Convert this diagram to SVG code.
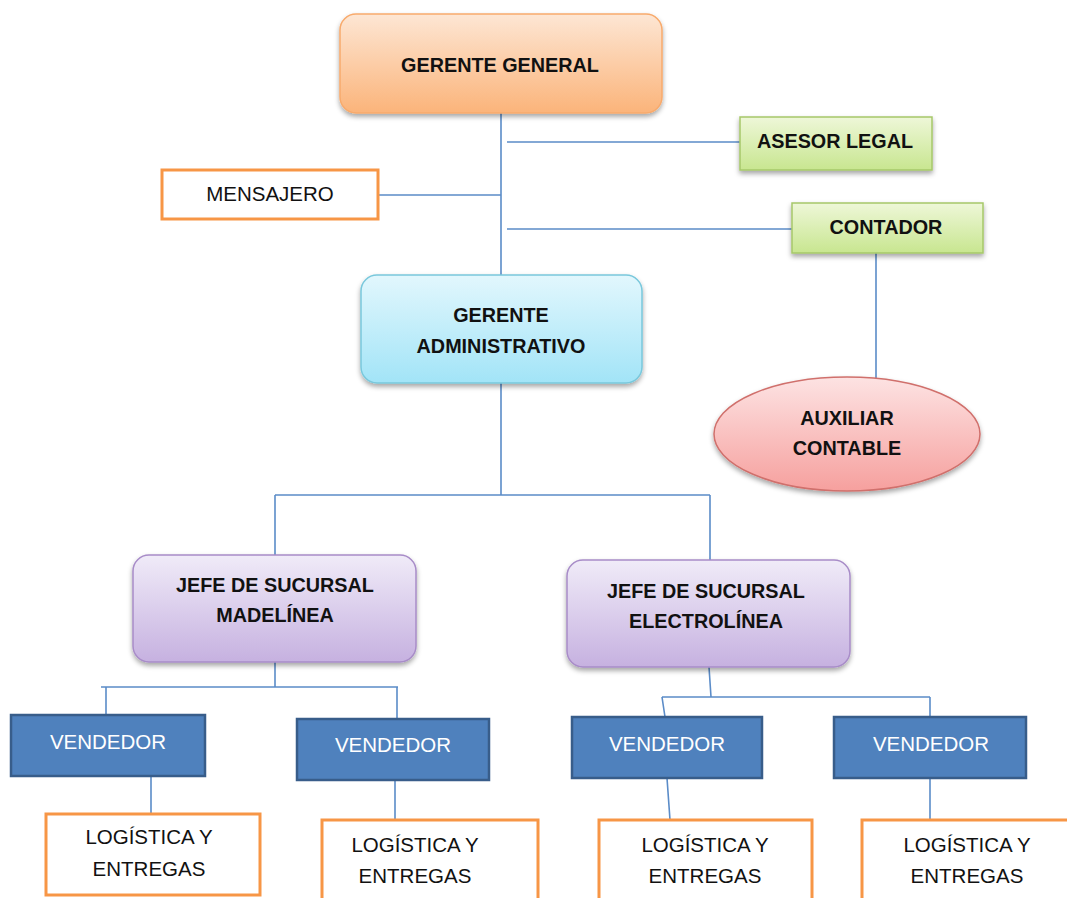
<svg xmlns="http://www.w3.org/2000/svg" width="1067" height="898" viewBox="0 0 1067 898">
<defs>
<linearGradient id="gOr" x1="0" y1="0" x2="0" y2="1"><stop offset="0" stop-color="#fde6d4"/><stop offset="1" stop-color="#fbb47a"/></linearGradient>
<linearGradient id="gGr" x1="0" y1="0" x2="0" y2="1"><stop offset="0" stop-color="#eef7d8"/><stop offset="1" stop-color="#c8e690"/></linearGradient>
<linearGradient id="gBl" x1="0" y1="0" x2="0" y2="1"><stop offset="0" stop-color="#e2f7fd"/><stop offset="1" stop-color="#a2e4f7"/></linearGradient>
<linearGradient id="gRd" x1="0" y1="0" x2="0" y2="1"><stop offset="0" stop-color="#fde3e3"/><stop offset="1" stop-color="#f6a09e"/></linearGradient>
<linearGradient id="gPu" x1="0" y1="0" x2="0" y2="1"><stop offset="0" stop-color="#f0ebf8"/><stop offset="1" stop-color="#c6b1e0"/></linearGradient>
<filter id="sh" x="-10%" y="-10%" width="120%" height="130%"><feDropShadow dx="0" dy="3" stdDeviation="2.5" flood-color="#000" flood-opacity="0.35"/></filter>
</defs>
<style>
.t{font-family:"Liberation Sans",Arial,sans-serif;font-size:20.5px;text-anchor:middle;fill:#111}
.b{font-weight:bold;font-size:19.8px}
.w{fill:#fff}
.ln{stroke:#5b8cc8;stroke-width:1.6;fill:none}
.ob{fill:#fff;stroke:#f79646;stroke-width:3}
.vd{fill:#4f81bd;stroke:#385d8a;stroke-width:2.5}
</style>
<rect width="1067" height="898" fill="#fff"/>
<g id="connectors">
<path class="ln" d="M501 113V275M507 142H740M378 195H501M507 229H792M876 253V378M501 383V495M275 495H710M275 495V555M710 495V560M275 662V687M101 687H398M106 687V715M397 687V719M709 667L711 697M662 697H930M662 697L665 717M930 697V717M151 776V814M395 780V820M667 778L670 820M930 778V822"/>
</g>
<g id="gerente-general"><rect x="340" y="14" width="322" height="99" rx="16" fill="url(#gOr)" stroke="#f8aa6c" stroke-width="1.5" filter="url(#sh)"/><text class="t b" x="500" y="72">GERENTE GENERAL</text></g>
<g id="asesor-legal"><rect x="740" y="117" width="192" height="53" fill="url(#gGr)" stroke="#a6c86a" stroke-width="1.5" filter="url(#sh)"/><text class="t b" x="835" y="148">ASESOR LEGAL</text></g>
<g id="mensajero"><rect class="ob" x="162" y="170" width="216" height="49"/><text class="t" x="270" y="201">MENSAJERO</text></g>
<g id="contador"><rect x="792" y="203" width="191" height="50" fill="url(#gGr)" stroke="#a6c86a" stroke-width="1.5" filter="url(#sh)"/><text class="t b" x="886" y="234">CONTADOR</text></g>
<g id="gerente-administrativo"><rect x="361" y="275" width="281" height="108" rx="16" fill="url(#gBl)" stroke="#79c8dc" stroke-width="1.5" filter="url(#sh)"/><text class="t b" x="501" y="322">GERENTE</text><text class="t b" x="501" y="353">ADMINISTRATIVO</text></g>
<g id="auxiliar-contable"><ellipse cx="847" cy="434" rx="133" ry="57" fill="url(#gRd)" stroke="#d0706c" stroke-width="1.5" filter="url(#sh)"/><text class="t b" x="847" y="425">AUXILIAR</text><text class="t b" x="847" y="455">CONTABLE</text></g>
<g id="jefe-madelinea"><rect x="133" y="555" width="283" height="107" rx="16" fill="url(#gPu)" stroke="#a88cc8" stroke-width="1.5" filter="url(#sh)"/><text class="t b" x="275" y="592">JEFE DE SUCURSAL</text><text class="t b" x="275" y="622">MADELÍNEA</text></g>
<g id="jefe-electrolinea"><rect x="567" y="560" width="283" height="107" rx="16" fill="url(#gPu)" stroke="#a88cc8" stroke-width="1.5" filter="url(#sh)"/><text class="t b" x="706" y="598">JEFE DE SUCURSAL</text><text class="t b" x="706" y="628">ELECTROLÍNEA</text></g>
<g id="vendedor-1"><rect class="vd" x="11" y="715" width="194" height="61"/><text class="t w" x="108" y="749">VENDEDOR</text></g>
<g id="vendedor-2"><rect class="vd" x="297" y="719" width="192" height="61"/><text class="t w" x="393" y="752">VENDEDOR</text></g>
<g id="vendedor-3"><rect class="vd" x="572" y="717" width="190" height="61"/><text class="t w" x="667" y="751">VENDEDOR</text></g>
<g id="vendedor-4"><rect class="vd" x="834" y="717" width="192" height="61"/><text class="t w" x="931" y="751">VENDEDOR</text></g>
<g id="logistica-1"><rect class="ob" x="46" y="814" width="214" height="81"/><text class="t" x="149" y="844">LOGÍSTICA Y</text><text class="t" x="149" y="876">ENTREGAS</text></g>
<g id="logistica-2"><rect class="ob" x="322" y="820" width="216" height="90"/><text class="t" x="415" y="852">LOGÍSTICA Y</text><text class="t" x="415" y="883">ENTREGAS</text></g>
<g id="logistica-3"><rect class="ob" x="599" y="820" width="213" height="90"/><text class="t" x="705" y="852">LOGÍSTICA Y</text><text class="t" x="705" y="883">ENTREGAS</text></g>
<g id="logistica-4"><rect class="ob" x="862" y="820" width="220" height="90"/><text class="t" x="967" y="852">LOGÍSTICA Y</text><text class="t" x="967" y="883">ENTREGAS</text></g>
</svg>
